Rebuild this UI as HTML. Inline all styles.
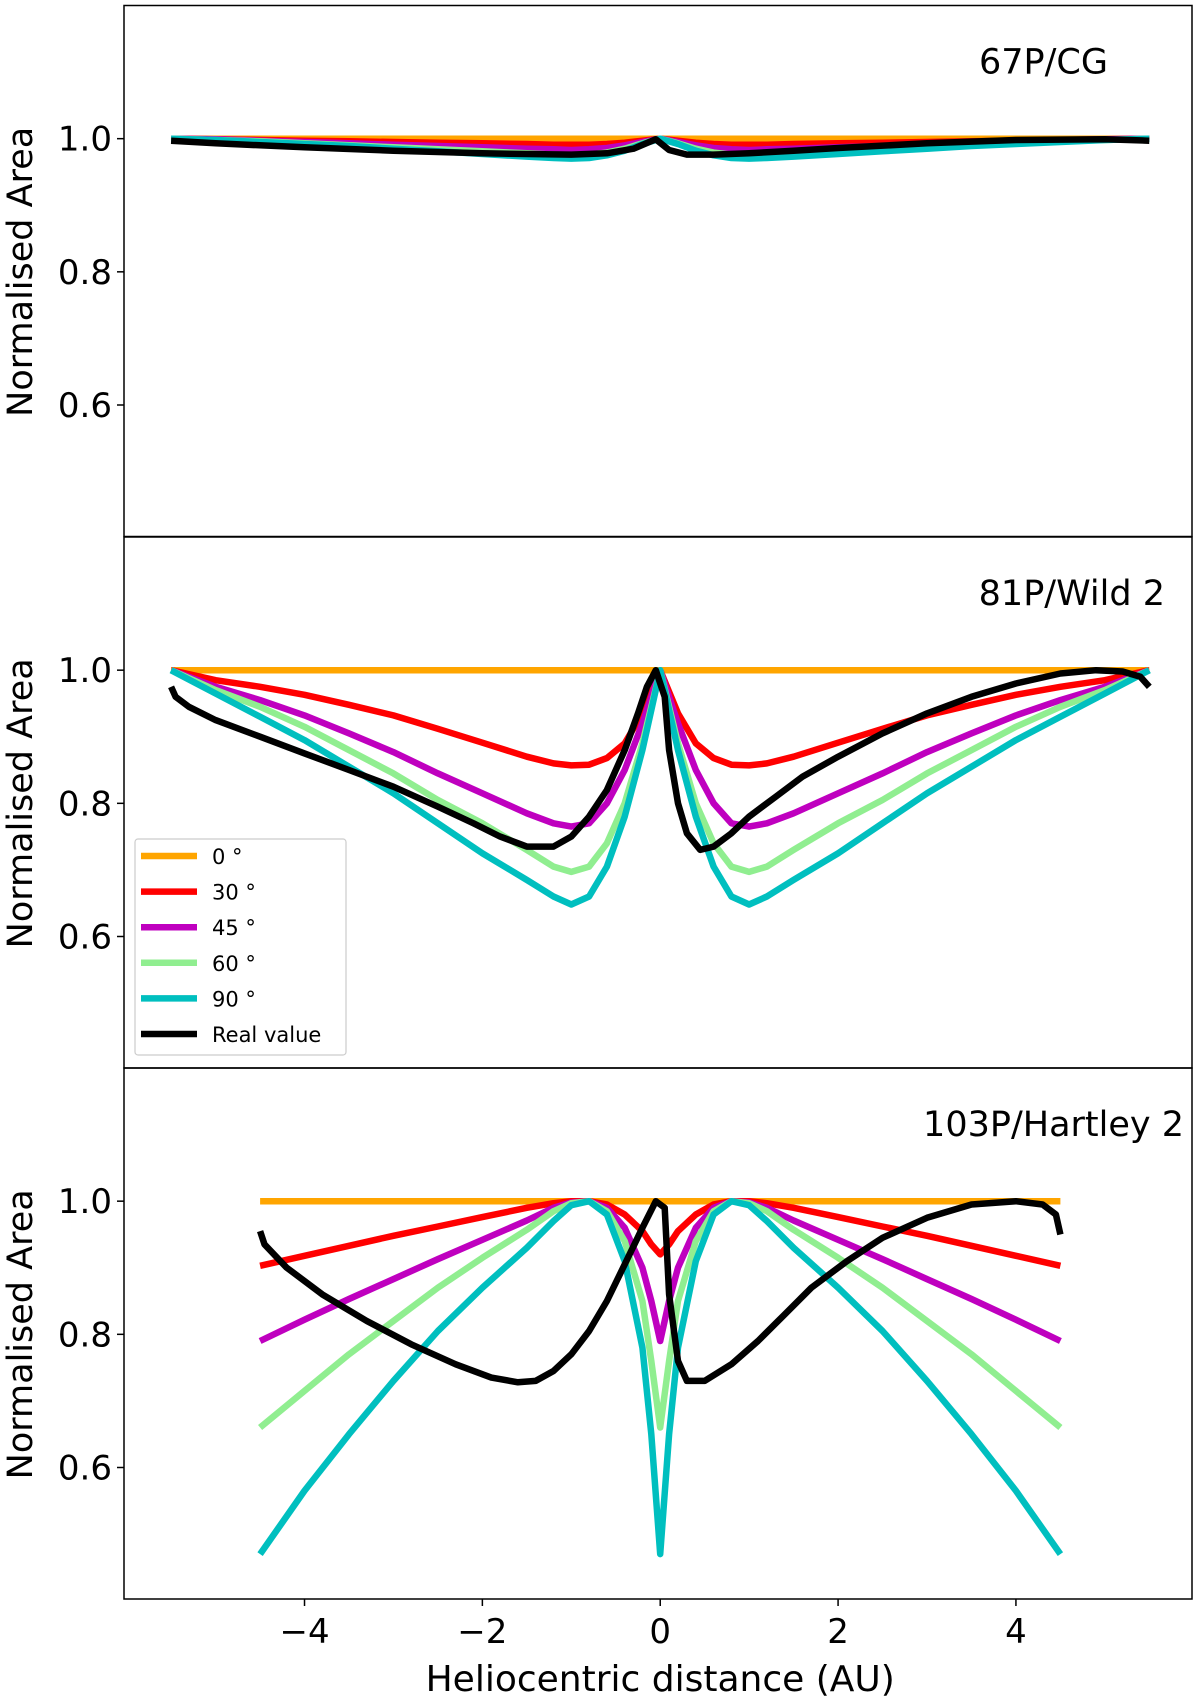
<!DOCTYPE html>
<html><head><meta charset="utf-8"><style>
html,body{margin:0;padding:0;background:#fff}
svg{display:block;font-family:"DejaVu Sans","Liberation Sans",sans-serif}
</style></head><body>
<svg id="chart" width="1200" height="1699" viewBox="0 0 1200 1699" xmlns="http://www.w3.org/2000/svg"></svg>
<script>
const panelTitles=["67P/CG","81P/Wild 2","103P/Hartley 2"];
const xTicks=[-4,-2,0,2,4];
const yTicks=[0.6,0.8,1.0];
const seriesNames=["0 \u00b0","30 \u00b0","45 \u00b0","60 \u00b0","90 \u00b0","Real value"];
const seriesColors=["#ffa500","#ff0000","#bf00bf","#90ee90","#00bfbf","#000000"];

const xsA=[-5.5,-5,-4.5,-4,-3.5,-3,-2.5,-2,-1.5,-1.2,-1,-0.8,-0.6,-0.4,-0.2,0,0.2,0.4,0.6,0.8,1,1.2,1.5,2,2.5,3,3.5,4,4.5,5,5.5];
// Panel 1 (67P)
const p1_0=[1,1,1,1,1,1,1,1,1,1,1,1,1,1,1,1,1,1,1,1,1,1,1,1,1,1,1,1,1,1,1];
const p1_30=[1,0.999,0.998,0.997,0.996,0.995,0.994,0.993,0.992,0.991,0.991,0.991,0.992,0.994,0.997,1,0.997,0.994,0.992,0.991,0.991,0.991,0.992,0.993,0.994,0.995,0.996,0.997,0.998,0.999,1];
const p1_45=[1,0.999,0.997,0.995,0.993,0.991,0.989,0.987,0.985,0.984,0.983,0.984,0.986,0.99,0.995,1,0.995,0.99,0.986,0.984,0.983,0.984,0.985,0.987,0.989,0.991,0.993,0.995,0.997,0.999,1];
const p1_60=[1,0.998,0.996,0.993,0.99,0.987,0.984,0.981,0.978,0.976,0.975,0.976,0.979,0.985,0.993,1,0.993,0.985,0.979,0.976,0.975,0.976,0.978,0.981,0.984,0.987,0.99,0.993,0.996,0.998,1];
const p1_90=[1,0.998,0.995,0.992,0.989,0.985,0.981,0.977,0.973,0.971,0.97,0.971,0.975,0.982,0.992,1,0.992,0.982,0.975,0.971,0.97,0.971,0.973,0.977,0.981,0.985,0.989,0.992,0.995,0.998,1];
const p1_xsR=[-5.5,-5,-4,-3,-2,-1.5,-1,-0.6,-0.3,-0.05,0.1,0.3,0.6,1,1.5,2,3,4,5,5.5];
const p1_real=[0.997,0.993,0.987,0.982,0.978,0.977,0.976,0.978,0.985,0.999,0.983,0.976,0.976,0.978,0.982,0.986,0.993,0.998,0.999,0.997];
// Panel 2 (81P)
const p2_0=p1_0;
const p2_30=[1,0.985,0.975,0.963,0.948,0.932,0.912,0.891,0.87,0.86,0.857,0.858,0.868,0.89,0.935,1,0.935,0.89,0.868,0.858,0.857,0.86,0.87,0.891,0.912,0.932,0.948,0.963,0.975,0.985,1];
const p2_45=[1,0.975,0.955,0.932,0.905,0.877,0.845,0.815,0.785,0.77,0.765,0.77,0.80,0.85,0.92,1,0.92,0.85,0.80,0.77,0.765,0.77,0.785,0.815,0.845,0.877,0.905,0.932,0.955,0.975,1];
const p2_60=[1,0.97,0.945,0.915,0.88,0.845,0.805,0.77,0.73,0.705,0.697,0.705,0.74,0.80,0.89,1,0.89,0.80,0.74,0.705,0.697,0.705,0.73,0.77,0.805,0.845,0.88,0.915,0.945,0.97,1];
const p2_90=[1,0.965,0.93,0.895,0.855,0.815,0.77,0.725,0.685,0.66,0.648,0.66,0.705,0.78,0.88,1,0.88,0.78,0.705,0.66,0.648,0.66,0.685,0.725,0.77,0.815,0.855,0.895,0.93,0.965,1];
const p2_xsR=[-5.5,-5.45,-5.3,-5,-4.5,-4,-3.5,-3,-2.5,-2.1,-1.8,-1.5,-1.2,-1.0,-0.8,-0.6,-0.4,-0.25,-0.15,-0.05,0.05,0.1,0.2,0.3,0.45,0.6,0.8,1.0,1.3,1.6,2,2.5,3,3.5,4,4.5,4.9,5.2,5.4,5.5];
const p2_real=[0.975,0.96,0.945,0.925,0.9,0.875,0.85,0.825,0.795,0.77,0.75,0.735,0.735,0.75,0.78,0.82,0.88,0.935,0.975,1.0,0.96,0.88,0.8,0.755,0.73,0.735,0.755,0.78,0.81,0.84,0.87,0.905,0.935,0.96,0.98,0.995,1.0,0.998,0.99,0.975];
// Panel 3 (103P)
const xsC=[-4.5,-4,-3.5,-3,-2.5,-2,-1.5,-1.2,-1,-0.8,-0.6,-0.4,-0.2,-0.1,0,0.1,0.2,0.4,0.6,0.8,1,1.2,1.5,2,2.5,3,3.5,4,4.5];
const p3_0=[1,1,1,1,1,1,1,1,1,1,1,1,1,1,1,1,1,1,1,1,1,1,1,1,1,1,1,1,1];
const p3_30=[0.903,0.918,0.933,0.948,0.962,0.976,0.99,0.997,1,1,0.995,0.98,0.955,0.935,0.92,0.935,0.955,0.98,0.995,1,1,0.997,0.99,0.976,0.962,0.948,0.933,0.918,0.903];
const p3_45=[0.79,0.822,0.853,0.883,0.913,0.942,0.971,0.99,0.998,1,0.99,0.96,0.9,0.85,0.79,0.85,0.9,0.96,0.99,1,0.998,0.99,0.971,0.942,0.913,0.883,0.853,0.822,0.79];
const p3_60=[0.66,0.715,0.77,0.82,0.87,0.915,0.957,0.985,0.997,1,0.985,0.94,0.85,0.76,0.66,0.76,0.85,0.94,0.985,1,0.997,0.985,0.957,0.915,0.87,0.82,0.77,0.715,0.66];
const p3_90=[0.47,0.565,0.65,0.73,0.805,0.87,0.93,0.97,0.994,1,0.98,0.91,0.78,0.65,0.47,0.65,0.78,0.91,0.98,1,0.994,0.97,0.93,0.87,0.805,0.73,0.65,0.565,0.47];
const p3_xsR=[-4.5,-4.45,-4.2,-3.8,-3.3,-2.8,-2.3,-1.9,-1.6,-1.4,-1.2,-1.0,-0.8,-0.6,-0.4,-0.2,-0.05,0.05,0.1,0.2,0.3,0.5,0.8,1.1,1.4,1.7,2.1,2.5,3,3.5,4,4.3,4.45,4.5];
const p3_real=[0.955,0.935,0.9,0.86,0.82,0.785,0.755,0.735,0.728,0.73,0.745,0.77,0.805,0.85,0.905,0.96,1.0,0.99,0.86,0.76,0.73,0.73,0.755,0.79,0.83,0.87,0.91,0.945,0.975,0.995,1.0,0.995,0.98,0.95];

const NS="http://www.w3.org/2000/svg";
const svg=document.getElementById('chart');
function mk(tag,attrs,parent){const e=document.createElementNS(NS,tag);for(const k in attrs)e.setAttribute(k,attrs[k]);(parent||svg).appendChild(e);return e;}
const L=124,R=1192,X0=-6.03,X1=5.98,Y0=0.4025,Y1=1.2;
const tops=[5.5,537,1068],H=531;
const titleRight=[1108,1165,1184];
const sx=v=>L+(v-X0)/(X1-X0)*(R-L);
function path(xs,ys,sy){return xs.map((x,i)=>(i?'L':'M')+sx(x).toFixed(1)+' '+sy(ys[i]).toFixed(1)).join(' ');}
const panels=[
 {A:xsA,s:[p1_0,p1_30,p1_45,p1_60,p1_90],xr:p1_xsR,r:p1_real},
 {A:xsA,s:[p2_0,p2_30,p2_45,p2_60,p2_90],xr:p2_xsR,r:p2_real},
 {A:xsC,s:[p3_0,p3_30,p3_45,p3_60,p3_90],xr:p3_xsR,r:p3_real}
];
panels.forEach((p,pi)=>{
 const top=tops[pi];
 const sy=v=>top+(Y1-v)/(Y1-Y0)*H;
 const g=mk('g',{});
 
 
 p.s.forEach((ys,si)=>{
  const pa=mk('path',{d:path(p.A,ys,sy),fill:'none',stroke:seriesColors[si],'stroke-width':6.5,'stroke-linejoin':'round'},g);
  
  
 });
 const pr=mk('path',{d:path(p.xr,p.r,sy),fill:'none',stroke:'#000','stroke-width':6.5,'stroke-linejoin':'round'},g);
 
 
 const fr=mk('rect',{x:L,y:top,width:R-L,height:H,fill:'none',stroke:'#000','stroke-width':1.5},g);
 
 
 yTicks.forEach(t=>{
  mk('line',{x1:L-7,x2:L,y1:sy(t),y2:sy(t),stroke:'#000','stroke-width':1.5},g);
  const tx=mk('text',{x:L-12,y:sy(t)+12,'text-anchor':'end','font-size':34},g);
  tx.textContent=t.toFixed(1);
  
  
 });
 const tt=mk('text',{x:titleRight[pi],y:top+68,'text-anchor':'end','font-size':35},g);
 tt.textContent=panelTitles[pi];
 
 
 const yl=mk('text',{x:0,y:0,'text-anchor':'middle','font-size':35,transform:`translate(32,${sy(0.8)}) rotate(-90)`},g);
 yl.textContent='Normalised Area';
 
 
});
xTicks.forEach(t=>{
 mk('line',{x1:sx(t),x2:sx(t),y1:1599,y2:1606,stroke:'#000','stroke-width':1.5});
 const tx=mk('text',{x:sx(t),y:1643,'text-anchor':'middle','font-size':34});
 tx.textContent=(t<0?'\u2212':'')+Math.abs(t);
 
 
});
const xl=mk('text',{x:sx(0),y:1691,'text-anchor':'middle','font-size':36});
xl.textContent='Heliocentric distance (AU)';


// legend
const lg=mk('g',{});


mk('rect',{x:135,y:839,width:211,height:216,fill:'#fff',stroke:'#ccc','stroke-width':1.2,rx:3},lg);
seriesNames.forEach((n,i)=>{
 const y=856+i*35.6;
 const ln=mk('line',{x1:141,x2:197,y1:y,y2:y,stroke:seriesColors[i],'stroke-width':6.5},lg);
 
 
 const t=mk('text',{x:212,y:y+8,'font-size':21},lg);
 t.textContent=n;
 
 
});
</script>
</body></html>
